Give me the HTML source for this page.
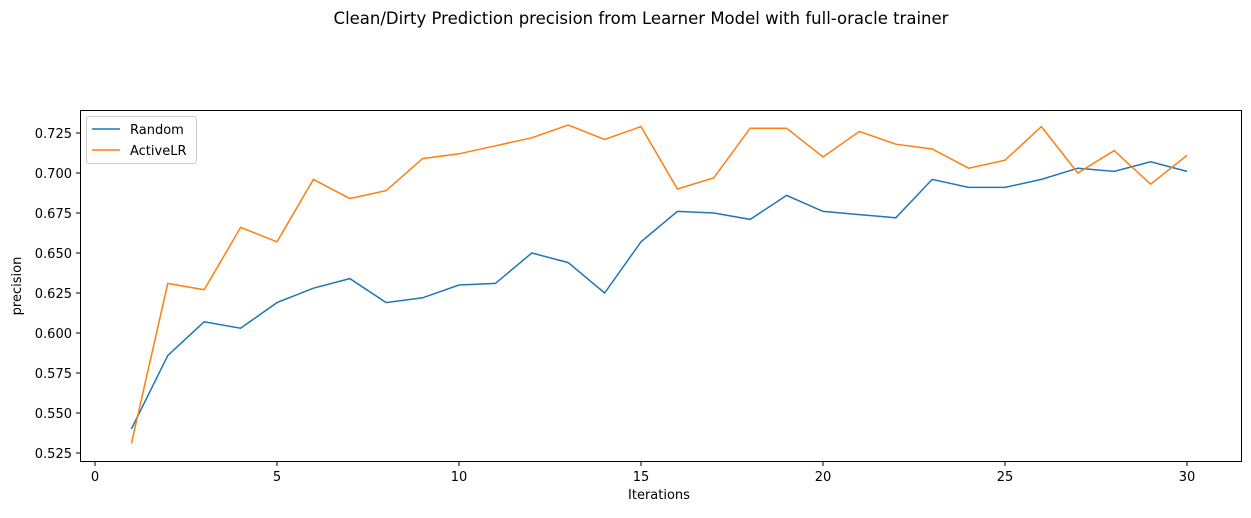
<!DOCTYPE html>
<html><head><meta charset="utf-8"><style>
body{margin:0;background:#fff;width:1251px;height:513px;overflow:hidden}
svg text{font-family:"DejaVu Sans","Liberation Sans",sans-serif;fill:#000}
</style></head><body>
<svg id="chart" width="1251" height="513" xmlns="http://www.w3.org/2000/svg">
<text x="641" y="24" font-size="16.5" text-anchor="middle">Clean/Dirty Prediction precision from Learner Model with full-oracle trainer</text>
<g id="axes"></g>
<g id="series"></g>
<rect x="80.5" y="110.5" width="1161" height="351" fill="none" stroke="#000" stroke-width="1"/>
<g>
<rect x="86.5" y="116.5" width="110" height="47" rx="3" fill="#fff" stroke="#ccc"/>
<line x1="92" y1="129" x2="120" y2="129" stroke="#1f77b4" stroke-width="1.5"/>
<text x="130" y="134" font-size="13">Random</text>
<line x1="92" y1="150" x2="120" y2="150" stroke="#ff7f0e" stroke-width="1.5"/>
<text x="130" y="155" font-size="13">ActiveLR</text>
</g>
<text x="659" y="499" font-size="13" text-anchor="middle">Iterations</text>
<text x="21" y="286" font-size="13" text-anchor="middle" transform="rotate(-90 21 286)">precision</text>
</svg>
<script>
const iterations=[1,2,3,4,5,6,7,8,9,10,11,12,13,14,15,16,17,18,19,20,21,22,23,24,25,26,27,28,29,30];
const randomVals=[0.540,0.586,0.607,0.603,0.619,0.628,0.634,0.619,0.622,0.630,0.631,0.650,0.644,0.625,0.657,0.676,0.675,0.671,0.686,0.676,0.674,0.672,0.696,0.691,0.691,0.696,0.703,0.701,0.707,0.701];
const activeVals=[0.531,0.631,0.627,0.666,0.657,0.696,0.684,0.689,0.709,0.712,0.717,0.722,0.730,0.721,0.729,0.690,0.697,0.728,0.728,0.710,0.726,0.718,0.715,0.703,0.708,0.729,0.700,0.714,0.693,0.711];
const xTicks=[0,5,10,15,20,25,30];
const yTicks=[0.525,0.550,0.575,0.600,0.625,0.650,0.675,0.700,0.725];
const xs=v=>95+v*36.4;
const ys=v=>133-(v-0.725)*1600;
const NS="http://www.w3.org/2000/svg";
const axes=document.getElementById('axes');
xTicks.forEach(t=>{
 const l=document.createElementNS(NS,'line');
 
 
 l.setAttribute('x1',xs(t));l.setAttribute('x2',xs(t));l.setAttribute('y1',462);l.setAttribute('y2',466);l.setAttribute('stroke','#000');
 axes.appendChild(l);
 const tx=document.createElementNS(NS,'text');
 
 
 tx.setAttribute('x',xs(t));tx.setAttribute('y',481);tx.setAttribute('font-size','13');tx.setAttribute('text-anchor','middle');
 tx.textContent=t;axes.appendChild(tx);
});
yTicks.forEach(t=>{
 const l=document.createElementNS(NS,'line');
 
 
 l.setAttribute('x1',76);l.setAttribute('x2',80);l.setAttribute('y1',ys(t));l.setAttribute('y2',ys(t));l.setAttribute('stroke','#000');
 axes.appendChild(l);
 const tx=document.createElementNS(NS,'text');
 
 
 tx.setAttribute('x',72);tx.setAttribute('y',ys(t)+5);tx.setAttribute('font-size','13');tx.setAttribute('text-anchor','end');
 tx.textContent=t.toFixed(3);axes.appendChild(tx);
});
const series=document.getElementById('series');
function draw(vals,color,name){
 const p=document.createElementNS(NS,'polyline');
 
 
 p.setAttribute('points',vals.map((v,i)=>xs(iterations[i])+','+ys(v)).join(' '));
 p.setAttribute('fill','none');p.setAttribute('stroke',color);p.setAttribute('stroke-width','1.5');
 series.appendChild(p);
}
draw(randomVals,'#1f77b4','random-line');
draw(activeVals,'#ff7f0e','activelr-line');
</script>
</body></html>
